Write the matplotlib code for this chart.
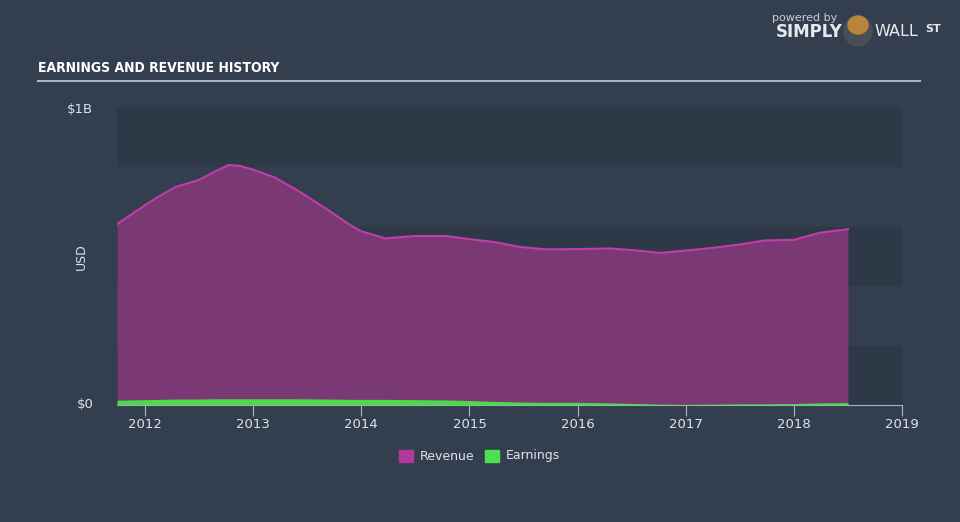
import matplotlib.pyplot as plt
from matplotlib.patches import Ellipse, Rectangle
import numpy as np

# revenue / earnings history (USD billions)
years = [2011.74, 2012.0, 2012.14, 2012.28, 2012.5, 2012.64, 2012.77, 2012.88, 2013.0, 2013.2,
         2013.43, 2013.71, 2013.9, 2014.0, 2014.22, 2014.5, 2014.78, 2015.01, 2015.24, 2015.47,
         2015.7, 2016.0, 2016.3, 2016.53, 2016.76, 2017.0, 2017.27, 2017.55, 2017.73,
         2018.0, 2018.24, 2018.5]
revenue = [0.609, 0.673, 0.705, 0.734, 0.758, 0.785, 0.808, 0.805, 0.792, 0.766,
           0.718, 0.652, 0.605, 0.585, 0.561, 0.569, 0.569, 0.558, 0.548, 0.532,
           0.524, 0.525, 0.527, 0.521, 0.512, 0.520, 0.530, 0.543, 0.554,
           0.556, 0.580, 0.592]
earnings = [0.016, 0.018, 0.019, 0.020, 0.020, 0.021, 0.021, 0.021, 0.021, 0.021,
            0.021, 0.020, 0.019, 0.019, 0.019, 0.018, 0.017, 0.015, 0.012, 0.010,
            0.009, 0.009, 0.007, 0.005, 0.003, 0.002, 0.003, 0.004, 0.004,
            0.005, 0.007, 0.008]
xticks = [2012, 2013, 2014, 2015, 2016, 2017, 2018, 2019]

bg = '#333f4e'
fig = plt.figure(figsize=(9.6, 5.22), dpi=100)
fig.patch.set_facecolor(bg)

ax = fig.add_axes([117/960, 1-405/522, (902-117)/960, (405-108)/522])
ax.set_facecolor(bg)
for i in range(5):
    if i % 2 == 0:
        ax.axhspan(i*0.2, (i+1)*0.2, color='#2d3947', zorder=0, lw=0)

ax.fill_between(years, 0, revenue, color='#7a3874', zorder=2, lw=0)
ax.plot(years, revenue, color='#c23caa', lw=1.5, zorder=3, solid_joinstyle='round')
ax.fill_between(years, 0, earnings, color='#4cd94c', zorder=4, lw=0)

ax.set_xlim(2011.74, 2019.0)
ax.set_ylim(0, 1.0)
for s in ['top', 'right', 'left']:
    ax.spines[s].set_visible(False)
ax.spines['bottom'].set_color('#aab4c0')
ax.set_xticks(xticks)
ax.set_xticklabels([str(x) for x in xticks])
ax.tick_params(axis='x', colors='#aab4c0', length=8, labelcolor='#dde3ea', labelsize=9.5, pad=1)
ax.set_yticks([0, 1.0])
ax.set_yticklabels(['$0', '$1B'])
ax.tick_params(axis='y', length=0, labelcolor='#dde3ea', labelsize=9.5, pad=17)
ax.get_yticklabels()[0].set_va('center')
ax.set_ylabel('USD', color='#dde3ea', fontsize=9)
ax.yaxis.set_label_coords((88-117)/785, 0.5)

# title and rule
fig.text(38/960, 1-68/522, 'EARNINGS AND REVENUE HISTORY', color='white', fontsize=10,
         fontweight='bold', family='DejaVu Sans', fontstretch='condensed', va='center')
fig.add_artist(plt.Line2D([38/960, 920/960], [1-81/522, 1-81/522], color='#aab4c0', lw=1.5))

# branding
fig.text(805/960, 1-18/522, 'powered by', color='#c8ced6', fontsize=8, ha='center', va='center')
fig.text(776/960, 1-32/522, 'SIMPLY', color='#e6eaee', fontsize=12, fontweight='bold', ha='left', va='center')
fig.text(874/960, 1-32/522, 'WALL', color='#e6eaee', fontsize=11.5, ha='left', va='center')
fig.text(925/960, 1-29/522, 'ST', color='#e6eaee', fontsize=8, fontweight='bold', ha='left', va='center')
fig.add_artist(Ellipse((858/960, 1-31/522), 28/960, 30/522, transform=fig.transFigure, color='#4a4f57'))
fig.add_artist(Ellipse((858/960, 1-25/522), 20/960, 18/522, transform=fig.transFigure, color='#b8863b'))

# legend
fig.add_artist(Rectangle((399/960, 1-462/522), 14/960, 12/522, transform=fig.transFigure, color='#b03a9b'))
fig.text(420/960, 1-456/522, 'Revenue', color='#dde3ea', fontsize=9, va='center')
fig.add_artist(Rectangle((485/960, 1-462/522), 14/960, 12/522, transform=fig.transFigure, color='#4ee04e'))
fig.text(506/960, 1-456/522, 'Earnings', color='#dde3ea', fontsize=9, va='center')

plt.savefig('out.png', dpi=100, facecolor=bg)
